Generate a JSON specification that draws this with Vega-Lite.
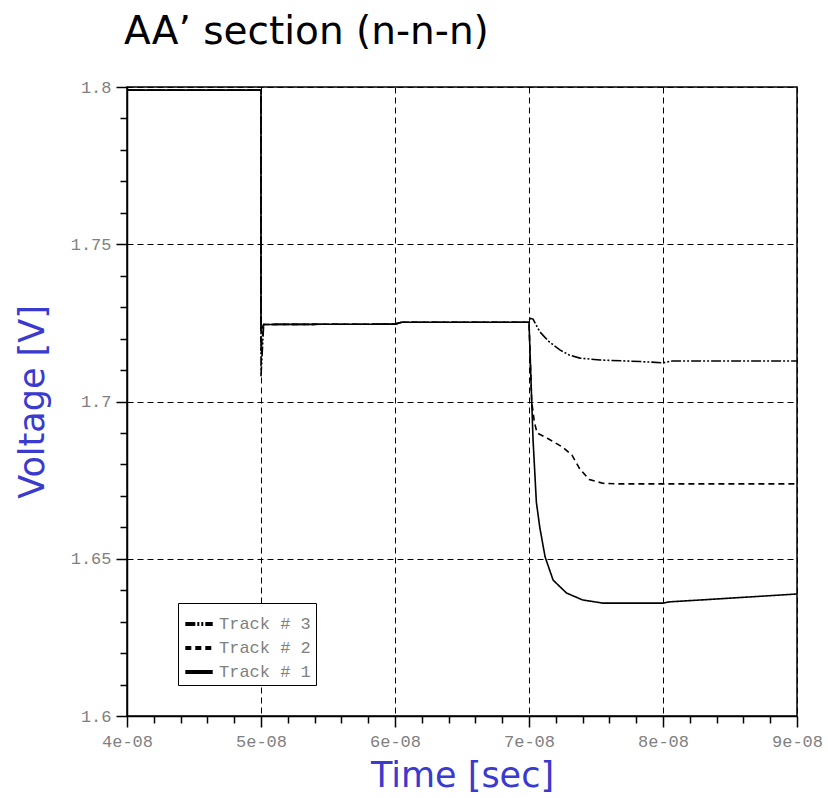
{
  "$schema": "https://vega.github.io/schema/vega-lite/v6.json",
  "width": 670,
  "height": 629,
  "autosize": "none",
  "padding": {"left": 127, "top": 87, "right": 31, "bottom": 82},
  "background": "white",
  "title": {"text": "AA’ section (n-n-n)", "anchor": "start", "frame": "group", "font": "DejaVu Sans", "fontSize": 39, "fontWeight": "normal", "color": "black", "offset": 26, "dx": -3},
  "config": {
    "view": {"stroke": "black", "strokeWidth": 1.5},
    "axis": {"domainColor": "black", "domainWidth": 1.5, "tickColor": "black", "tickWidth": 1.5, "labelFont": "Liberation Mono", "labelFontSize": 17, "labelColor": "#808080", "titleFont": "DejaVu Sans", "titleFontSize": 35, "titleFontWeight": "normal", "titleColor": "#3a3acf"}
  },
  "data": {"values": [
    {"track": "Track # 3", "i": 1, "t": 4.0e-8, "v": 1.799},
    {"track": "Track # 3", "i": 2, "t": 5.0e-8, "v": 1.799},
    {"track": "Track # 3", "i": 3, "t": 5.0e-8, "v": 1.708},
    {"track": "Track # 3", "i": 4, "t": 5.02e-8, "v": 1.7245},
    {"track": "Track # 3", "i": 5, "t": 6.0e-8, "v": 1.7246},
    {"track": "Track # 3", "i": 6, "t": 6.05e-8, "v": 1.7252},
    {"track": "Track # 3", "i": 7, "t": 7.0e-8, "v": 1.7252},
    {"track": "Track # 3", "i": 8, "t": 7.007e-8, "v": 1.7265},
    {"track": "Track # 3", "i": 9, "t": 7.03e-8, "v": 1.7262},
    {"track": "Track # 3", "i": 10, "t": 7.08e-8, "v": 1.7222},
    {"track": "Track # 3", "i": 11, "t": 7.15e-8, "v": 1.719},
    {"track": "Track # 3", "i": 12, "t": 7.23e-8, "v": 1.7164},
    {"track": "Track # 3", "i": 13, "t": 7.3e-8, "v": 1.7148},
    {"track": "Track # 3", "i": 14, "t": 7.38e-8, "v": 1.7138},
    {"track": "Track # 3", "i": 15, "t": 7.53e-8, "v": 1.7132},
    {"track": "Track # 3", "i": 16, "t": 7.83e-8, "v": 1.7127},
    {"track": "Track # 3", "i": 17, "t": 8.0e-8, "v": 1.7123},
    {"track": "Track # 3", "i": 18, "t": 8.07e-8, "v": 1.7129},
    {"track": "Track # 3", "i": 19, "t": 9.0e-8, "v": 1.7129},
    {"track": "Track # 2", "i": 1, "t": 4.0e-8, "v": 1.799},
    {"track": "Track # 2", "i": 2, "t": 5.0e-8, "v": 1.799},
    {"track": "Track # 2", "i": 3, "t": 5.0e-8, "v": 1.716},
    {"track": "Track # 2", "i": 4, "t": 5.02e-8, "v": 1.7245},
    {"track": "Track # 2", "i": 5, "t": 6.0e-8, "v": 1.7246},
    {"track": "Track # 2", "i": 6, "t": 6.05e-8, "v": 1.7252},
    {"track": "Track # 2", "i": 7, "t": 7.0e-8, "v": 1.7252},
    {"track": "Track # 2", "i": 8, "t": 7.02e-8, "v": 1.7},
    {"track": "Track # 2", "i": 9, "t": 7.04e-8, "v": 1.6935},
    {"track": "Track # 2", "i": 10, "t": 7.06e-8, "v": 1.69},
    {"track": "Track # 2", "i": 11, "t": 7.15e-8, "v": 1.688},
    {"track": "Track # 2", "i": 12, "t": 7.25e-8, "v": 1.6855},
    {"track": "Track # 2", "i": 13, "t": 7.32e-8, "v": 1.683},
    {"track": "Track # 2", "i": 14, "t": 7.38e-8, "v": 1.6785},
    {"track": "Track # 2", "i": 15, "t": 7.45e-8, "v": 1.6752},
    {"track": "Track # 2", "i": 16, "t": 7.55e-8, "v": 1.674},
    {"track": "Track # 2", "i": 17, "t": 7.65e-8, "v": 1.6738},
    {"track": "Track # 2", "i": 18, "t": 9.0e-8, "v": 1.6738},
    {"track": "Track # 1", "i": 1, "t": 4.0e-8, "v": 1.799},
    {"track": "Track # 1", "i": 2, "t": 5.0e-8, "v": 1.799},
    {"track": "Track # 1", "i": 3, "t": 5.0e-8, "v": 1.7225},
    {"track": "Track # 1", "i": 4, "t": 5.02e-8, "v": 1.7245},
    {"track": "Track # 1", "i": 5, "t": 6.0e-8, "v": 1.7246},
    {"track": "Track # 1", "i": 6, "t": 6.05e-8, "v": 1.7252},
    {"track": "Track # 1", "i": 7, "t": 7.0e-8, "v": 1.7252},
    {"track": "Track # 1", "i": 8, "t": 7.03e-8, "v": 1.688},
    {"track": "Track # 1", "i": 9, "t": 7.055e-8, "v": 1.668},
    {"track": "Track # 1", "i": 10, "t": 7.08e-8, "v": 1.6601},
    {"track": "Track # 1", "i": 11, "t": 7.12e-8, "v": 1.6506},
    {"track": "Track # 1", "i": 12, "t": 7.18e-8, "v": 1.6432},
    {"track": "Track # 1", "i": 13, "t": 7.28e-8, "v": 1.6391},
    {"track": "Track # 1", "i": 14, "t": 7.4e-8, "v": 1.6369},
    {"track": "Track # 1", "i": 15, "t": 7.55e-8, "v": 1.6359},
    {"track": "Track # 1", "i": 16, "t": 8.0e-8, "v": 1.6359},
    {"track": "Track # 1", "i": 17, "t": 8.05e-8, "v": 1.6363},
    {"track": "Track # 1", "i": 18, "t": 8.4e-8, "v": 1.6372},
    {"track": "Track # 1", "i": 19, "t": 8.7e-8, "v": 1.638},
    {"track": "Track # 1", "i": 20, "t": 9.0e-8, "v": 1.6388}
  ]},
  "layer": [
    {
      "mark": {"type": "line", "color": "black", "strokeWidth": 1.6},
      "encoding": {
        "x": {"field": "t", "type": "quantitative", "scale": {"domain": [4e-8, 9e-8], "nice": false, "zero": false},
          "axis": {"orient": "bottom", "values": [4e-8, 5e-8, 6e-8, 7e-8, 8e-8, 9e-8], "labelExpr": "round(datum.value*1e8) + 'e-08'", "labelFlush": false, "tickSize": 11, "labelPadding": 6, "grid": true, "gridColor": "black", "gridDash": [6, 4], "gridWidth": 1, "gridOpacity": 1, "title": "Time [sec]", "titlePadding": 9}},
        "y": {"field": "v", "type": "quantitative", "scale": {"domain": [1.6, 1.8], "nice": false, "zero": false},
          "axis": {"orient": "left", "values": [1.6, 1.65, 1.7, 1.75, 1.8], "format": "~g", "tickSize": 11, "labelPadding": 5, "grid": true, "gridColor": "black", "gridDash": [6, 4], "gridWidth": 1, "gridOpacity": 1, "title": "Voltage [V]", "titlePadding": 20}},
        "strokeDash": {"field": "track", "type": "nominal",
          "scale": {"domain": ["Track # 3", "Track # 2", "Track # 1"], "range": [[10, 2, 2, 2, 2, 2], [6, 4], [1, 0]]},
          "legend": {"orient": "none", "legendX": 51, "legendY": 516, "title": null, "direction": "vertical", "strokeColor": "black", "fillColor": "white", "padding": 5, "symbolType": "stroke", "symbolSize": 750, "symbolStrokeWidth": 4, "symbolStrokeColor": "black", "labelFont": "Liberation Mono", "labelFontSize": 17, "labelColor": "#808080", "labelOffset": 4, "rowPadding": 0}},
        "order": {"field": "i", "type": "quantitative"}
      }
    },
    {
      "mark": {"type": "line", "opacity": 0},
      "encoding": {
        "x": {"field": "t", "type": "quantitative",
          "axis": {"orient": "bottom", "values": [4.2e-8, 4.4e-8, 4.6e-8, 4.8e-8, 5.2e-8, 5.4e-8, 5.6e-8, 5.8e-8, 6.2e-8, 6.4e-8, 6.6e-8, 6.8e-8, 7.2e-8, 7.4e-8, 7.6e-8, 7.8e-8, 8.2e-8, 8.4e-8, 8.6e-8, 8.8e-8], "labels": false, "tickSize": 7, "grid": false, "domain": false, "title": null}},
        "y": {"field": "v", "type": "quantitative",
          "axis": {"orient": "left", "values": [1.61, 1.62, 1.63, 1.64, 1.66, 1.67, 1.68, 1.69, 1.71, 1.72, 1.73, 1.74, 1.76, 1.77, 1.78, 1.79], "labels": false, "tickSize": 7, "grid": false, "domain": false, "title": null}},
        "detail": {"field": "track", "type": "nominal"},
        "order": {"field": "i", "type": "quantitative"}
      }
    }
  ],
  "resolve": {"axis": {"x": "independent", "y": "independent"}}
}
